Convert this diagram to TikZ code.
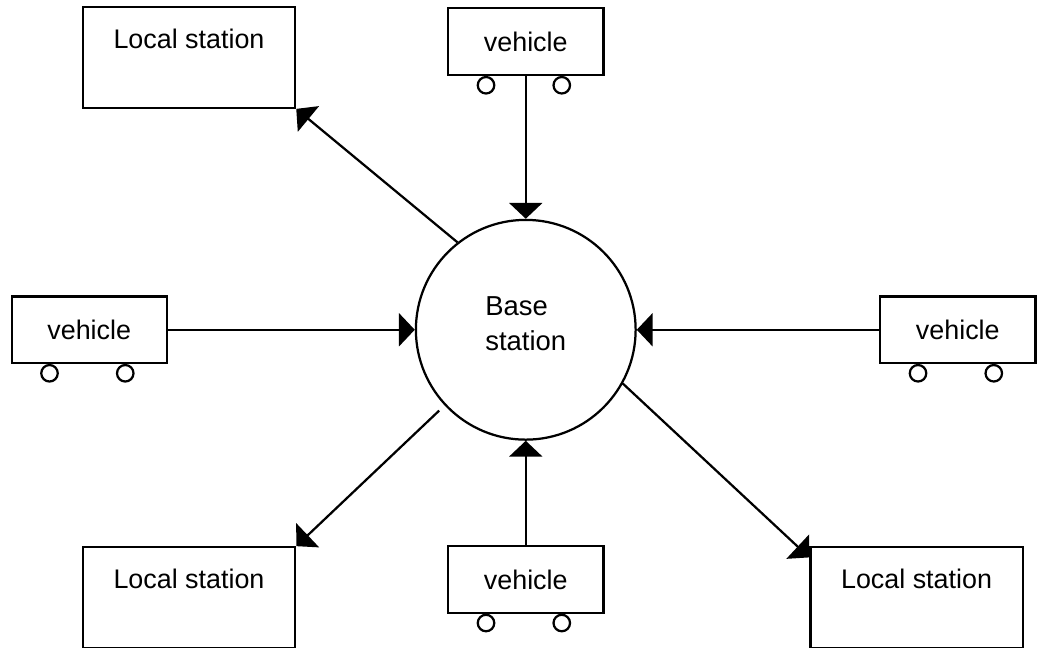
\documentclass[tikz,border=0pt]{standalone}
\usepackage{fontspec}
\setmainfont{Liberation Sans}
\usetikzlibrary{arrows.meta}

\begin{document}
\begin{tikzpicture}[
        stationnode/.style={rectangle, draw=black, line width=0.85pt, minimum width=2.83cm, text height=0.55cm, text depth=0.79cm, inner sep=0pt, font=\fontsize{10.2}{13.2}\selectfont},
        vehiclenode/.style={rectangle, draw=black, line width=0.85pt, minimum width=2.07cm, minimum height=0.89cm, inner sep=0pt, font=\fontsize{10.2}{13.2}\selectfont},
        basenode/.style={circle, draw=black, line width=0.85pt, minimum size=2.93cm, align=left, text depth=0.17cm, font=\fontsize{10.4}{13.4}\selectfont},
        link/.style={line width=0.85pt, -{Triangle[length=6pt,width=12.5pt]}}]
        \useasboundingbox (0,0) rectangle (13.853,8.627);
        \node[basenode] at (7.01, 4.23) (BS) {Base\\station};
        \node[vehiclenode] at (7.01, 8.07) (VT) {vehicle};
        \node[vehiclenode] at (1.19, 4.23) (VL) {vehicle};
        \node[vehiclenode] at (12.77, 4.23) (VR) {vehicle};
        \node[vehiclenode] at (7.01, 0.90) (VB) {vehicle};
        \node[stationnode] at (2.52, 7.86) (LTL) {Local station};
        \node[stationnode] at (2.52, 0.66) (LBL) {Local station};
        \node[stationnode] at (12.22, 0.66) (LBR) {Local station};
        % wheels
        \foreach \v in {VT, VL, VR, VB} {
            \draw[line width=0.85pt] ([xshift=-0.53cm, yshift=-0.12cm]\v.south) circle (0.11);
            \draw[line width=0.85pt] ([xshift=0.48cm, yshift=-0.12cm]\v.south) circle (0.11);
        }
        % vehicles to base station
        \draw[link] (VT) -- (BS);
        \draw[link] (VL) -- (BS);
        \draw[link] (VR) -- (BS);
        \draw[link] (VB) -- (BS);
        % base station to local stations
        \draw[link] (BS.128) -- (LTL.south east);
        \draw[link, shorten <=1mm] (BS.223) -- (LBL.north east);
        \draw[link] (BS.331) -- ([yshift=-1.5mm]LBR.north west);
\end{tikzpicture}
\end{document}
